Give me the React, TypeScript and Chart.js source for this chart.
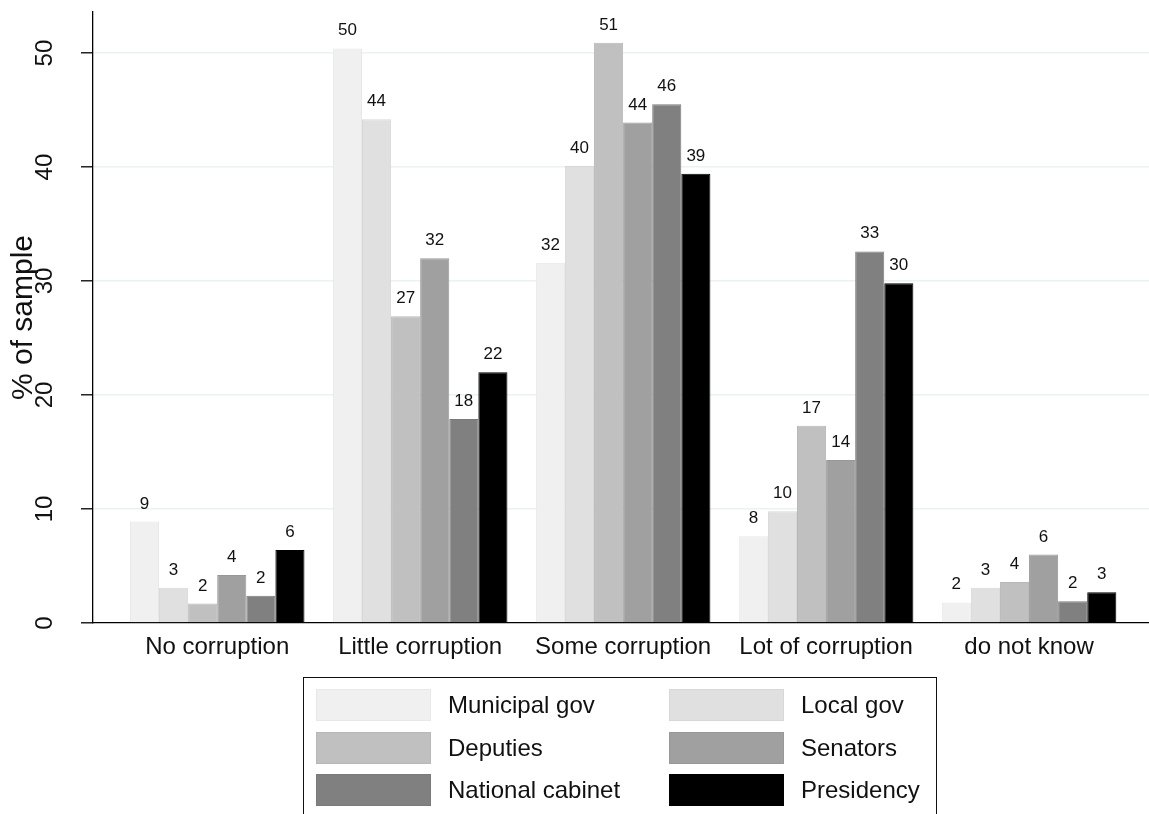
import React, { useEffect, useRef } from 'react';
import { Chart, registerables } from 'chart.js';

Chart.register(...registerables);

const categories = ['No corruption', 'Little corruption', 'Some corruption', 'Lot of corruption', 'do not know'];
const seriesNames = ['Municipal gov', 'Local gov', 'Deputies', 'Senators', 'National cabinet', 'Presidency'];
const seriesColors = ['#F0F0F0', '#E0E0E0', '#C0C0C0', '#A0A0A0', '#808080', '#000000'];
const seriesBorders = ['#E8E8E8', '#D8D8D8', '#B8B8B8', '#989898', '#7A7A7A', '#000000'];

const municipalGov = [8.9, 50.4, 31.6, 7.6, 1.8];
const localGov = [3.1, 44.2, 40.1, 9.8, 3.1];
const deputies = [1.7, 26.9, 50.9, 17.3, 3.6];
const senators = [4.2, 32.0, 43.9, 14.3, 6.0];
const nationalCabinet = [2.4, 17.9, 45.5, 32.6, 1.9];
const presidency = [6.4, 22.0, 39.4, 29.8, 2.7];

const yTicks = [0, 10, 20, 30, 40, 50];
const yTitle = '% of sample';

const FONT = '"Liberation Sans", Arial, Helvetica, sans-serif';

const allSeries = [municipalGov, localGov, deputies, senators, nationalCabinet, presidency];

const valueLabels = {
  id: 'valueLabels',
  afterDatasetsDraw(chart: any) {
    const ctx = chart.ctx;
    ctx.save();
    ctx.font = `17px ${FONT}`;
    ctx.fillStyle = '#111';
    ctx.textAlign = 'center';
    ctx.textBaseline = 'alphabetic';
    chart.data.datasets.forEach((ds: any, di: number) => {
      const meta = chart.getDatasetMeta(di);
      meta.data.forEach((el: any, i: number) => {
        const v = ds.data[i].y;
        ctx.fillText(String(Math.round(v)), el.x, el.y - 13);
      });
    });
    ctx.restore();
  },
};

export default function App() {
  const ref = useRef<HTMLCanvasElement>(null);

  useEffect(() => {
    const datasets = allSeries.map((vals, si) => ({
      label: seriesNames[si],
      data: vals.map((v, i) => ({ x: i, y: v })),
      backgroundColor: seriesColors[si],
      borderColor: seriesBorders[si],
      borderWidth: 1,
      categoryPercentage: 0.86,
      barPercentage: 1,
    }));

    const chart = new Chart(ref.current as HTMLCanvasElement, {
      type: 'bar',
      data: { datasets },
      plugins: [valueLabels],
      options: {
        animation: false,
        responsive: false,
        devicePixelRatio: 1,
        layout: { padding: { top: 12, right: 0, left: 0, bottom: 0 } },
        plugins: {
          legend: { display: false },
          tooltip: { enabled: false },
        },
        scales: {
          x: {
            type: 'linear',
            offset: false,
            min: -0.612,
            max: 4.591,
            afterBuildTicks: (scale: any) => {
              scale.ticks = categories.map((_, i) => ({ value: i }));
            },
            afterFit: (scale: any) => {
              scale.height = 191;
              scale.paddingLeft = 0;
              scale.paddingRight = 0;
            },
            grid: { display: false, drawTicks: false, offset: false },
            border: { display: true, color: '#000', width: 1.3 },
            ticks: {
              autoSkip: false,
              maxRotation: 0,
              padding: 10,
              color: '#111',
              font: { family: FONT, size: 24 },
              callback: (v: any) => categories[v] ?? '',
            },
          },
          y: {
            type: 'linear',
            min: 0,
            max: 53.6,
            afterBuildTicks: (scale: any) => {
              scale.ticks = yTicks.map((v) => ({ value: v }));
            },
            afterFit: (scale: any) => {
              scale.width = 93;
              scale.paddingTop = 0;
              scale.paddingBottom = 0;
            },
            grid: {
              color: (ctx: any) => (ctx.tick && ctx.tick.value === 0 ? 'rgba(0,0,0,0)' : '#EAF2F3'),
              lineWidth: 1.6,
              drawTicks: true,
              tickLength: 12,
              tickColor: '#000',
              tickWidth: 1.3,
            },
            border: { display: true, color: '#000', width: 1.3 },
            ticks: {
              minRotation: 90,
              maxRotation: 90,
              crossAlign: 'center',
              padding: 22,
              color: '#111',
              font: { family: FONT, size: 24 },
            },
            title: {
              display: true,
              text: yTitle,
              color: '#111',
              font: { family: FONT, size: 30 },
              padding: { top: 6, bottom: 0 },
            },
          },
        },
      } as any,
    });
    return () => chart.destroy();
  }, []);

  return (
    <div
      style={{
        position: 'fixed',
        left: 0,
        top: 0,
        width: 1149,
        height: 814,
        overflow: 'hidden',
        background: '#fff',
        fontFamily: FONT,
      }}
    >
      <canvas ref={ref} width={1149} height={814} style={{ display: 'block', width: 1149, height: 814 }} />
      <div
        style={{
          position: 'absolute',
          left: 303,
          top: 677,
          width: 634,
          height: 150,
          border: '1px solid #111',
          boxSizing: 'border-box',
        }}
      />
      {seriesNames.map((name, k) => {
        const col = k % 2;
        const row = Math.floor(k / 2);
        const top = 689 + row * 42.5;
        return (
          <React.Fragment key={name}>
            <div
              style={{
                position: 'absolute',
                left: 316 + col * 353,
                top,
                width: 115,
                height: 32,
                background: seriesColors[k],
                boxSizing: 'border-box',
                border: `1px solid ${seriesBorders[k]}`,
              }}
            />
            <div
              style={{
                position: 'absolute',
                left: 448 + col * 353,
                top,
                height: 32,
                lineHeight: '32px',
                fontSize: 24,
                color: '#111',
                whiteSpace: 'nowrap',
              }}
            >
              {name}
            </div>
          </React.Fragment>
        );
      })}
    </div>
  );
}
